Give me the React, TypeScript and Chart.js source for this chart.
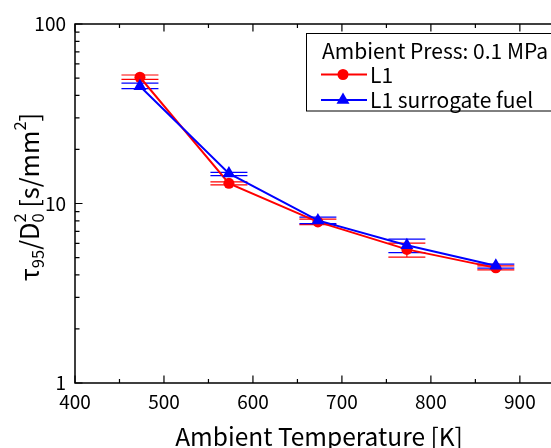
import React, { useEffect, useRef } from "react";
import { Chart, registerables } from "chart.js";

Chart.register(...registerables);

// ---- data ----
const temperatures = [473, 573, 673, 773, 873];
const l1Values = [50.5, 12.95, 7.9, 5.55, 4.38];
const l1Low = [49.2, 12.7, 7.63, 5.02, 4.27];
const l1High = [52.0, 13.2, 8.18, 6.01, 4.49];
const surrogateValues = [45.0, 14.7, 8.05, 5.85, 4.5];
const surrogateLow = [43.6, 14.3, 7.73, 5.33, 4.37];
const surrogateHigh = [46.8, 14.9, 8.39, 6.33, 4.59];
const xTicks = [400, 500, 600, 700, 800, 900];
const xMinorTicks = [450, 550, 650, 750, 850, 950];
const yTicks = [1, 10, 100];
const yMinorTicks = [2, 3, 4, 5, 6, 7, 8, 9, 20, 30, 40, 50, 60, 70, 80, 90];
const seriesNames = ["L1", "L1 surrogate fuel"];
const legendTitle = "Ambient Press: 0.1 MPa";
const xTitle = "Ambient Temperature [K]";

const FONT = '"Noto Sans CJK JP", "Noto Sans", sans-serif';
const RED = "#ff0000";
const BLUE = "#0000ff";

function drawMarker(ctx: CanvasRenderingContext2D, style: string, x: number, y: number, r: number, color: string) {
  ctx.save();
  ctx.fillStyle = color;
  ctx.beginPath();
  if (style === "circle") {
    ctx.arc(x, y, r, 0, Math.PI * 2);
  } else {
    let rad = 0;
    ctx.moveTo(x + Math.sin(rad) * r, y - Math.cos(rad) * r);
    rad += (2 * Math.PI) / 3;
    ctx.lineTo(x + Math.sin(rad) * r, y - Math.cos(rad) * r);
    rad += (2 * Math.PI) / 3;
    ctx.lineTo(x + Math.sin(rad) * r, y - Math.cos(rad) * r);
    ctx.closePath();
  }
  ctx.fill();
  ctx.restore();
}

const errorBounds = [
  { low: l1Low, high: l1High, color: RED },
  { low: surrogateLow, high: surrogateHigh, color: BLUE },
];

const decorPlugin = {
  id: "decor",
  beforeDatasetsDraw(chart: any) {
    const ctx: CanvasRenderingContext2D = chart.ctx;
    const xs = chart.scales.x;
    const ys = chart.scales.y;
    ctx.save();
    ctx.lineWidth = 1.2;
    errorBounds.forEach((eb) => {
      ctx.strokeStyle = eb.color;
      temperatures.forEach((t, i) => {
        const px = xs.getPixelForValue(t);
        const lo = ys.getPixelForValue(eb.low[i]);
        const hi = ys.getPixelForValue(eb.high[i]);
        ctx.beginPath();
        ctx.moveTo(px, lo);
        ctx.lineTo(px, hi);
        ctx.moveTo(px - 18.5, lo);
        ctx.lineTo(px + 18.5, lo);
        ctx.moveTo(px - 18.5, hi);
        ctx.lineTo(px + 18.5, hi);
        ctx.stroke();
      });
    });
    ctx.restore();
  },
  afterDraw(chart: any) {
    const ctx: CanvasRenderingContext2D = chart.ctx;
    const { left, right, top, bottom } = chart.chartArea;
    const xs = chart.scales.x;
    const ys = chart.scales.y;
    ctx.save();
    // frame
    ctx.strokeStyle = "#000";
    ctx.lineWidth = 1.5;
    ctx.beginPath();
    ctx.moveTo(right + 2, top);
    ctx.lineTo(left, top);
    ctx.lineTo(left, bottom);
    ctx.lineTo(right + 2, bottom);
    ctx.stroke();
    // x ticks (bottom and top, inward)
    ctx.lineWidth = 1.2;
    ctx.beginPath();
    xTicks.forEach((v) => {
      const px = xs.getPixelForValue(v);
      ctx.moveTo(px, bottom);
      ctx.lineTo(px, bottom - 7.5);
      ctx.moveTo(px, top);
      ctx.lineTo(px, top + 7.5);
    });
    xMinorTicks.forEach((v) => {
      const px = xs.getPixelForValue(v);
      if (px > right) return;
      ctx.moveTo(px, bottom);
      ctx.lineTo(px, bottom - 4);
      ctx.moveTo(px, top);
      ctx.lineTo(px, top + 4);
    });
    yTicks.forEach((v) => {
      const py = ys.getPixelForValue(v);
      ctx.moveTo(left, py);
      ctx.lineTo(left + 7.5, py);
    });
    yMinorTicks.forEach((v) => {
      const py = ys.getPixelForValue(v);
      ctx.moveTo(left, py);
      ctx.lineTo(left + 4.5, py);
    });
    ctx.stroke();

    // x title
    ctx.fillStyle = "#000";
    ctx.font = `24.5px ${FONT}`;
    ctx.textAlign = "center";
    ctx.textBaseline = "alphabetic";
    ctx.fillText(xTitle, 319, 446);

    // y title with sub/superscripts
    const big = 25.3;
    const small = 16.5;
    const segs: { t: string; size: number; dy: number; stackWith?: { t: string; dy: number } }[] = [
      { t: "τ", size: big, dy: 0 },
      { t: "95", size: small, dy: 5 },
      { t: "/D", size: big, dy: 0 },
      { t: "0", size: small, dy: 5, stackWith: { t: "2", dy: -13.5 } },
      { t: " [s/mm", size: big, dy: 0 },
      { t: "2", size: small, dy: -13.5 },
      { t: "]", size: big, dy: 0 },
    ];
    ctx.save();
    ctx.translate(39, 197);
    ctx.rotate(-Math.PI / 2);
    ctx.textAlign = "left";
    let total = 0;
    segs.forEach((s) => {
      ctx.font = `${s.size}px ${FONT}`;
      total += ctx.measureText(s.t).width;
    });
    let x = -total / 2;
    segs.forEach((s) => {
      ctx.font = `${s.size}px ${FONT}`;
      ctx.fillText(s.t, x, s.dy);
      if (s.stackWith) ctx.fillText(s.stackWith.t, x, s.stackWith.dy);
      x += ctx.measureText(s.t).width;
    });
    ctx.restore();

    // legend
    ctx.fillStyle = "#fff";
    ctx.fillRect(306.5, 33.5, 260, 77.5);
    ctx.strokeStyle = "#000";
    ctx.lineWidth = 1;
    ctx.strokeRect(306.5, 33.5, 260, 77.5);
    ctx.fillStyle = "#000";
    ctx.textAlign = "left";
    ctx.textBaseline = "alphabetic";
    ctx.font = `21px ${FONT}`;
    ctx.fillText(legendTitle, 322, 58.5);
    const rows = [
      { name: seriesNames[0], color: RED, style: "circle", r: 5.5, y: 74.5 },
      { name: seriesNames[1], color: BLUE, style: "triangle", r: 7.5, y: 100 },
    ];
    rows.forEach((row) => {
      ctx.strokeStyle = row.color;
      ctx.lineWidth = 2;
      ctx.beginPath();
      ctx.moveTo(321, row.y);
      ctx.lineTo(367, row.y);
      ctx.stroke();
      drawMarker(ctx, row.style, 343, row.y, row.r, row.color);
      ctx.fillStyle = "#000";
      ctx.font = `21px ${FONT}`;
      ctx.fillText(row.name, 370, row.y + 8);
    });
    ctx.restore();
  },
};

export default function App() {
  const canvasRef = useRef<HTMLCanvasElement | null>(null);
  useEffect(() => {
    const canvas = canvasRef.current;
    if (!canvas) return;
    const chart = new Chart(canvas, {
      type: "line",
      data: {
        datasets: [
          {
            label: seriesNames[0],
            data: temperatures.map((t, i) => ({ x: t, y: l1Values[i] })),
            borderColor: RED,
            backgroundColor: RED,
            borderWidth: 2,
            pointStyle: "circle",
            pointRadius: 5.5,
            pointBorderWidth: 0,
            order: 2,
          },
          {
            label: seriesNames[1],
            data: temperatures.map((t, i) => ({ x: t, y: surrogateValues[i] })),
            borderColor: BLUE,
            backgroundColor: BLUE,
            borderWidth: 2,
            pointStyle: "triangle",
            pointRadius: 7.5,
            pointBorderWidth: 0,
            order: 1,
          },
        ],
      },
      options: {
        animation: false,
        responsive: true,
        maintainAspectRatio: false,
        layout: { autoPadding: false, padding: { top: 24, right: 0, left: 0, bottom: 0 } },
        plugins: { legend: { display: false }, tooltip: { enabled: false } },
        scales: {
          x: {
            type: "linear",
            min: 400,
            max: 935,
            grid: { display: false, drawTicks: false },
            border: { display: false },
            afterBuildTicks: (s: any) => {
              s.ticks = xTicks.map((v) => ({ value: v }));
            },
            afterFit: (s: any) => {
              s.height = 65;
              s.paddingLeft = 0;
              s.paddingRight = 0;
            },
            ticks: {
              color: "#000",
              padding: 7,
              maxRotation: 0,
              autoSkip: false,
              font: { family: FONT, size: 19 },
              callback: (v: any) => String(v),
            },
          },
          y: {
            type: "logarithmic",
            min: 1,
            max: 100,
            grid: { display: false, drawTicks: false },
            border: { display: false },
            afterBuildTicks: (s: any) => {
              s.ticks = yTicks.map((v) => ({ value: v }));
            },
            afterFit: (s: any) => {
              s.width = 75;
              s.paddingTop = 0;
              s.paddingBottom = 0;
            },
            ticks: {
              color: "#000",
              padding: 9,
              autoSkip: false,
              font: { family: FONT, size: 19 },
              callback: (v: any) => String(v),
            },
          },
        },
      },
      plugins: [decorPlugin],
    } as any);
    return () => chart.destroy();
  }, []);
  return (
    <div style={{ position: "absolute", left: 0, top: 0, width: 551, height: 448, background: "#fff" }}>
      <canvas ref={canvasRef} />
    </div>
  );
}
